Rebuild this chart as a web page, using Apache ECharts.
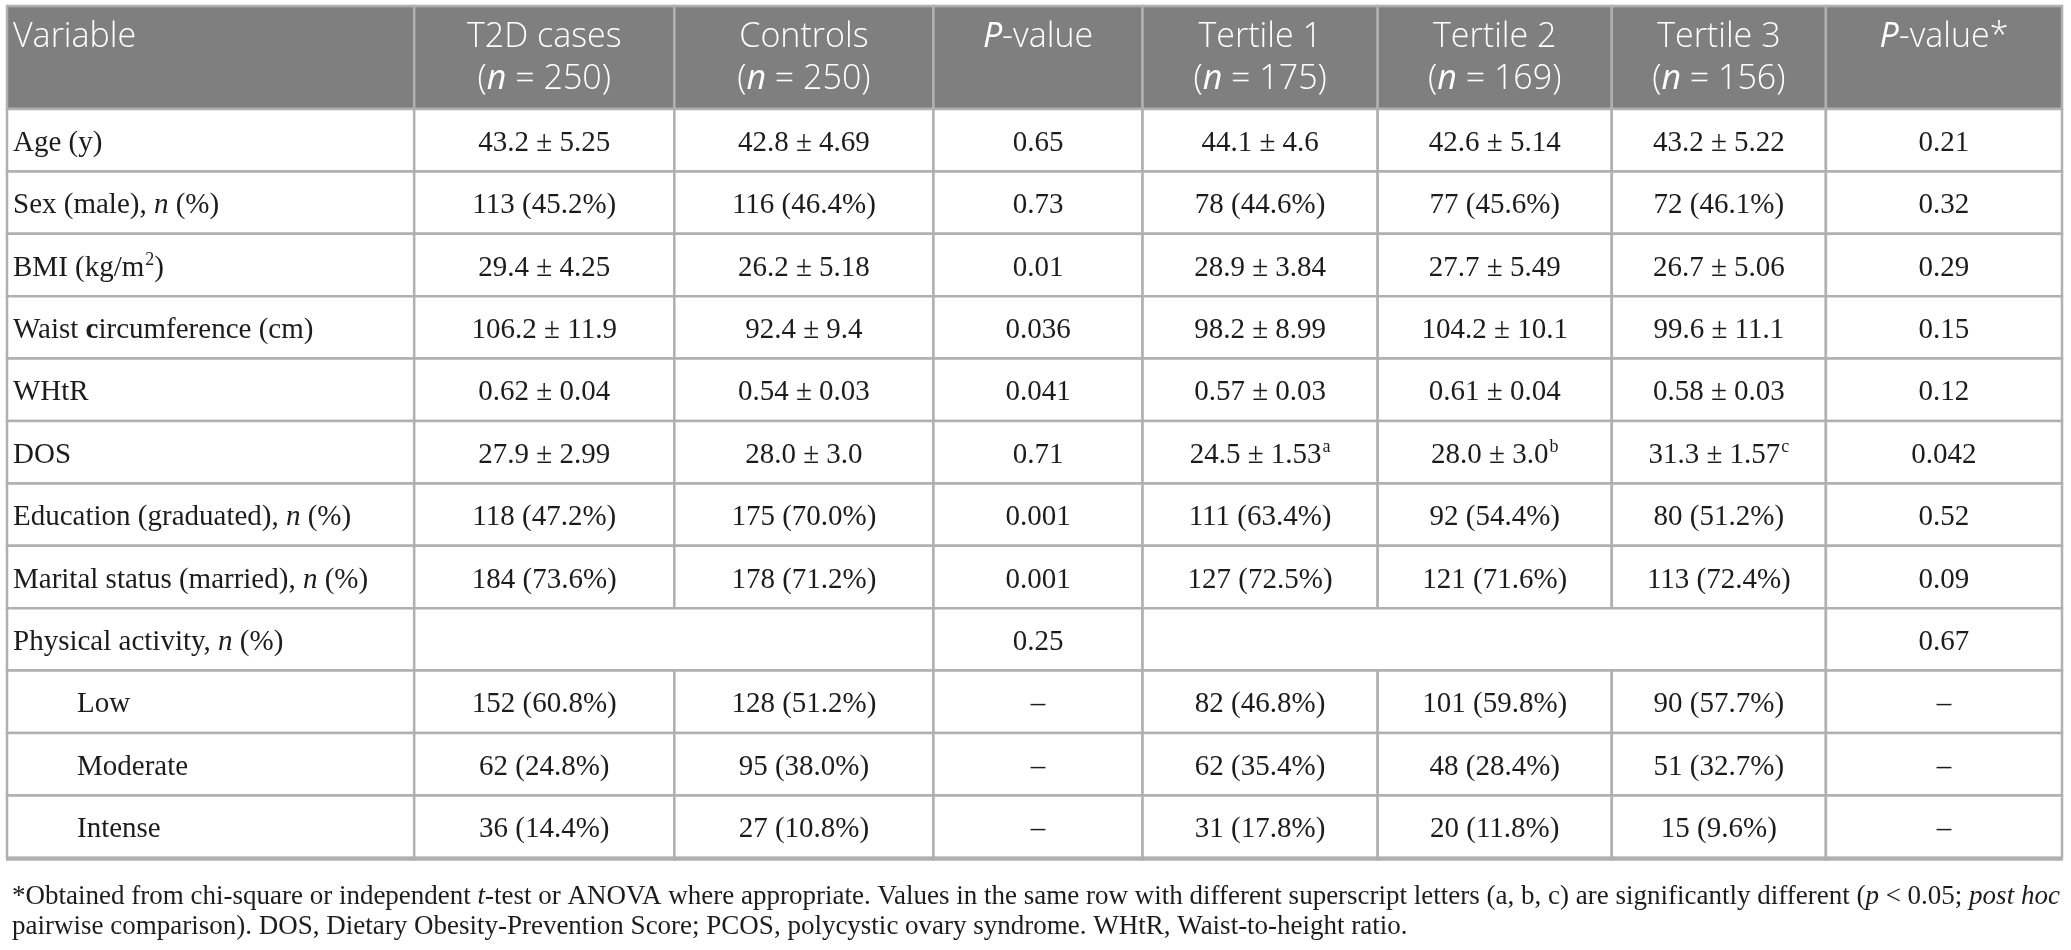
<!DOCTYPE html>
<html><head><meta charset="utf-8">
<script src="https://cdn.jsdelivr.net/npm/echarts@6/dist/echarts.min.js"></script>
<style>html,body{margin:0;padding:0;background:#fff}#c{width:2071px;height:950px}</style>
</head><body><div id="c"></div>
<script>
// ---- table content ----
const headers = ['Variable', 'T2D cases\n({i|n} = 250)', 'Controls\n({i|n} = 250)', '{i|P}-value',
  'Tertile 1\n({i|n} = 175)', 'Tertile 2\n({i|n} = 169)', 'Tertile 3\n({i|n} = 156)', '{i|P}-value*'];
const variables = ['Age (y)', 'Sex (male), {i|n} (%)', 'BMI (kg/m{sup|2})', 'Waist {b|c}ircumference (cm)',
  'WHtR', 'DOS', 'Education (graduated), {i|n} (%)', 'Marital status (married), {i|n} (%)',
  'Physical activity, {i|n} (%)', 'Low', 'Moderate', 'Intense'];
const indented = [false, false, false, false, false, false, false, false, false, true, true, true];
const t2dCases = ['43.2 ± 5.25', '113 (45.2%)', '29.4 ± 4.25', '106.2 ± 11.9', '0.62 ± 0.04', '27.9 ± 2.99',
  '118 (47.2%)', '184 (73.6%)', '', '152 (60.8%)', '62 (24.8%)', '36 (14.4%)'];
const controls = ['42.8 ± 4.69', '116 (46.4%)', '26.2 ± 5.18', '92.4 ± 9.4', '0.54 ± 0.03', '28.0 ± 3.0',
  '175 (70.0%)', '178 (71.2%)', '', '128 (51.2%)', '95 (38.0%)', '27 (10.8%)'];
const pValue = ['0.65', '0.73', '0.01', '0.036', '0.041', '0.71', '0.001', '0.001', '0.25', '–', '–', '–'];
const tertile1 = ['44.1 ± 4.6', '78 (44.6%)', '28.9 ± 3.84', '98.2 ± 8.99', '0.57 ± 0.03', '24.5 ± 1.53{sup|a}',
  '111 (63.4%)', '127 (72.5%)', '', '82 (46.8%)', '62 (35.4%)', '31 (17.8%)'];
const tertile2 = ['42.6 ± 5.14', '77 (45.6%)', '27.7 ± 5.49', '104.2 ± 10.1', '0.61 ± 0.04', '28.0 ± 3.0{sup|b}',
  '92 (54.4%)', '121 (71.6%)', '', '101 (59.8%)', '48 (28.4%)', '20 (11.8%)'];
const tertile3 = ['43.2 ± 5.22', '72 (46.1%)', '26.7 ± 5.06', '99.6 ± 11.1', '0.58 ± 0.03', '31.3 ± 1.57{sup|c}',
  '80 (51.2%)', '113 (72.4%)', '', '90 (57.7%)', '51 (32.7%)', '15 (9.6%)'];
const pValueStar = ['0.21', '0.32', '0.29', '0.15', '0.12', '0.042', '0.52', '0.09', '0.67', '–', '–', '–'];
// row index whose group columns are merged (T2D+Controls, Tertiles 1-3)
const mergedRows = [8];
const footnote = '*Obtained from chi-square or independent {i|t}-test or ANOVA where appropriate. Values in the same row with different superscript letters (a, b, c) are significantly different ({i|p} < 0.05; {i|post hoc}\npairwise comparison). DOS, Dietary Obesity-Prevention Score; PCOS, polycystic ovary syndrome. WHtR, Waist-to-height ratio.';

// ---- layout ----
const colWidths = [407, 260, 259, 209, 235, 234, 214, 236];
const headerH = 103, rowH = 62.4;
const colEdges = [0];
colWidths.forEach(w => colEdges.push(colEdges[colEdges.length - 1] + w));
const totalW = colEdges[colEdges.length - 1];
const totalH = headerH + variables.length * rowH;

const columns = [variables, t2dCases, controls, pValue, tertile1, tertile2, tertile3, pValueStar];
const cells = [];   // [x0, x1, y0, y1, kind(0 header / 1 body), align(0 left / 1 center / 2 indent)]
const texts = [];
headers.forEach((h, j) => {
  cells.push([colEdges[j], colEdges[j + 1], 0, headerH, 0, j === 0 ? 0 : 1]);
  texts.push(h);
});
variables.forEach((v, i) => {
  const y0 = headerH + i * rowH, y1 = y0 + rowH;
  const merged = mergedRows.indexOf(i) >= 0;
  const spans = merged ? [[0, 1], [1, 3], [3, 4], [4, 7], [7, 8]] : columns.map((c, j) => [j, j + 1]);
  spans.forEach(([a, b]) => {
    cells.push([colEdges[a], colEdges[b], y0, y1, 1, a === 0 ? (indented[i] ? 2 : 0) : 1]);
    texts.push(b - a > 1 ? '' : columns[a][i]);
  });
});

const serif = 'Liberation Serif';
const sans = 'Open Sans';
const bodySize = 29, headSize = 34;
const lineCol = '#b0b0b0';
function richFor(family, size, color, lh) {
  return {
    i: { fontStyle: 'italic', fontFamily: family, fontSize: size, fill: color, lineHeight: lh },
    b: { fontWeight: 'bold', fontFamily: family, fontSize: size, fill: color, lineHeight: lh },
    sup: { fontFamily: family, fontSize: Math.round(size * 0.62), fill: color, verticalAlign: 'top', lineHeight: lh, padding: [0, 0, 0, 1] }
  };
}

const chart = echarts.init(document.getElementById('c'), null, { renderer: 'canvas' });
chart.setOption({
  animation: false,
  backgroundColor: '#ffffff',
  title: {
    left: 7, top: 877,
    text: footnote,
    textStyle: {
      fontFamily: serif, fontSize: 27, fontWeight: 'normal', color: '#1c1c1c', lineHeight: 30,
      rich: {
        i: { fontStyle: 'italic', fontFamily: serif, fontSize: 27, color: '#1c1c1c', lineHeight: 30 }
      }
    }
  },
  grid: { left: 7, top: 6, width: totalW + 1, height: totalH },
  xAxis: { type: 'value', min: 0, max: totalW, show: false },
  yAxis: { type: 'value', min: 0, max: totalH, inverse: true, show: false },
  series: [{
    type: 'custom',
    clip: false,
    data: cells,
    renderItem: function (params, api) {
      const x0 = api.value(0), x1 = api.value(1), y0 = api.value(2), y1 = api.value(3);
      const kind = api.value(4), al = api.value(5);
      const p0 = api.coord([x0, y0]), p1 = api.coord([x1, y1]);
      const w = p1[0] - p0[0], h = p1[1] - p0[1];
      const txt = texts[params.dataIndex];
      const isHead = kind === 0;
      const color = isHead ? '#ffffff' : '#1c1c1c';
      const family = isHead ? sans : serif;
      const size = isHead ? headSize : bodySize;
      const lh = isHead ? 42 : 34;
      let tx, align;
      if (al === 1) { tx = p0[0] + w / 2; align = 'center'; }
      else if (al === 2) { tx = p0[0] + 70; align = 'left'; }
      else { tx = p0[0] + 6; align = 'left'; }
      const children = [{
        type: 'rect',
        shape: { x: p0[0], y: p0[1], width: w, height: h },
        style: { fill: isHead ? '#7f7f7f' : '#ffffff', stroke: lineCol, lineWidth: 2.5 }
      }];
      if (y1 >= totalH - 0.01) {
        children.push({
          type: 'line',
          shape: { x1: p0[0] - 1, y1: p1[1] + 1, x2: p1[0] + 1, y2: p1[1] + 1 },
          style: { stroke: lineCol, lineWidth: 4 }
        });
      }
      if (txt) {
        children.push({
          type: 'text',
          style: {
            text: txt, x: tx, y: isHead ? p0[1] + 10 : p0[1] + h / 2 + 3,
            align: align, verticalAlign: isHead ? 'top' : 'middle',
            fontFamily: family, fontSize: size, fontWeight: isHead ? 300 : 'normal', fill: color, lineHeight: lh,
            rich: richFor(family, size, color, lh)
          }
        });
      }
      return { type: 'group', children: children };
    }
  }]
});
</script></body></html>
